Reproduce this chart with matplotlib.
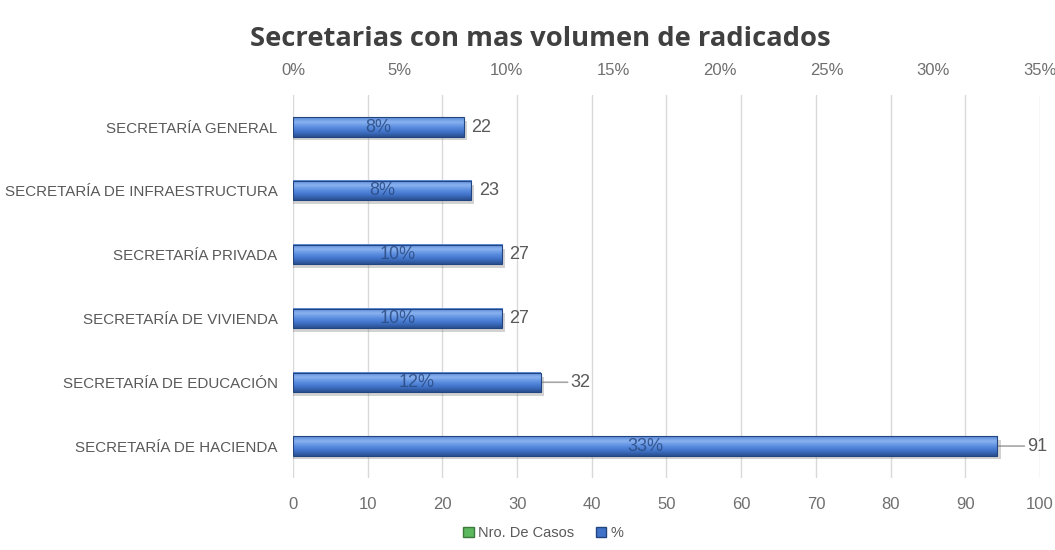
import numpy as np
import matplotlib
matplotlib.use('Agg')
import matplotlib.pyplot as plt
from matplotlib.patches import Patch
from matplotlib.colors import LinearSegmentedColormap

plt.rcParams['font.family'] = ['Liberation Sans', 'DejaVu Sans']

# data (bottom to top)
categorias = ['SECRETARÍA DE HACIENDA', 'SECRETARÍA DE EDUCACIÓN', 'SECRETARÍA DE VIVIENDA',
              'SECRETARÍA PRIVADA', 'SECRETARÍA DE INFRAESTRUCTURA', 'SECRETARÍA GENERAL']
casos = [91, 32, 27, 27, 23, 22]
porcentaje = [33.0, 11.6, 9.8, 9.8, 8.35, 7.99]
etiquetas_pct = ['33%', '12%', '10%', '10%', '8%', '8%']

gris = '#595959'
gris_claro = '#6f6f6f'
fig = plt.figure(figsize=(10.55, 5.5), dpi=100)
ax = fig.add_axes([0.2777, 0.131, 0.7081, 0.696])
ax2 = ax.twiny()

y = np.arange(len(categorias))
h = 0.3

# bottom axis (Nro. De Casos) - only gridlines/ticks
ax.set_xlim(0, 100)
ax.set_ylim(-0.5, len(categorias) - 0.5)
ax.set_xticks(range(0, 101, 10))
ax.set_yticks(y)
ax.set_yticklabels(categorias, fontsize=10.9, color=gris)
ax.grid(axis='x', color='#d9d9d9', linewidth=1)
ax.set_axisbelow(True)
ax.tick_params(axis='x', length=0, pad=14, labelsize=12, labelcolor=gris_claro)
ax.tick_params(axis='y', length=0, pad=11)
for s in ax.spines.values():
    s.set_visible(False)

# top axis (%)
ax2.set_xlim(0, 35)
ax2.set_xticks(range(0, 36, 5))
ax2.set_xticklabels([f'{t}%' for t in range(0, 36, 5)])
ax2.tick_params(axis='x', length=0, pad=12, labelsize=12, labelcolor=gris_claro)
for s in ax2.spines.values():
    s.set_visible(False)

# gradient bars
cmap = LinearSegmentedColormap.from_list('barra', ['#2a4f8f', '#3f72c8', '#5b8ee0', '#8ab2f0', '#5a8ad8'])
grad = np.linspace(0, 1, 64).reshape(-1, 1)
for yi, p in zip(y, porcentaje):
    # shadow
    ax2.barh(yi - 0.06, p + 0.15, height=h, color='#7f7f7f', alpha=0.35, zorder=2)
    ax2.imshow(grad, extent=(0, p, yi - h / 2, yi + h / 2), aspect='auto',
               cmap=cmap, origin='lower', zorder=3)
    ax2.barh(yi, p, height=h, facecolor='none', edgecolor='#23457f', linewidth=0.8, zorder=4)

ax2.set_xlim(0, 35)
ax2.set_ylim(-0.5, len(categorias) - 0.5)

for yi, p, lab in zip(y, porcentaje, etiquetas_pct):
    ax2.text(p / 2, yi, lab, ha='center', va='center', fontsize=13, color='#2b4a80', alpha=0.85, zorder=5)

# count labels
for yi, p, c in zip(y, porcentaje, casos):
    x = p / 35 * 100
    if c >= 30:
        ax.annotate(str(c), xy=(x - 3, yi), xytext=(x + 4, yi), fontsize=13, color=gris,
                    va='center', ha='left', zorder=6,
                    arrowprops=dict(arrowstyle='-', color='#a6a6a6', lw=1.2,
                                    shrinkA=0, shrinkB=0, relpos=(0, 0.5)))
    else:
        ax.text(x + 1, yi, str(c), fontsize=13, color=gris, va='center', ha='left', zorder=6)

fig.suptitle('Secretarias con mas volumen de radicados', fontsize=19.7, fontweight='bold',
             color='#404040', y=0.952, x=0.512, family=['Open Sans', 'DejaVu Sans'])

handles = [Patch(facecolor='#5cb85c', edgecolor='#3d7a3d'), Patch(facecolor='#3f72c8', edgecolor='#23457f')]
fig.legend(handles, ['Nro. De Casos', '%'], loc='center', bbox_to_anchor=(0.515, 0.031), ncol=2,
           frameon=False, fontsize=10.5, handlelength=0.7, handleheight=0.7, columnspacing=1.5,
           handletextpad=0.3, labelcolor=gris)

fig.savefig('out.png', dpi=100)
